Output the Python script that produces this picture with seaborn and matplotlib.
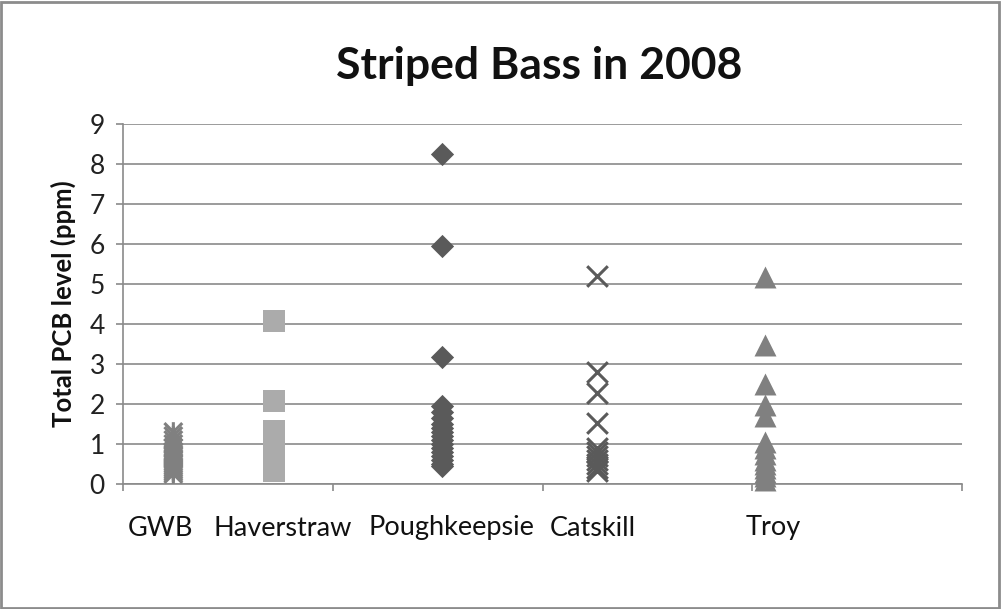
import matplotlib
matplotlib.use("Agg")
import matplotlib.pyplot as plt
from matplotlib.path import Path
from matplotlib.patches import Rectangle
import pandas as pd
import seaborn as sns

# Sampling sites along the Hudson, positioned by river mile
sites = ["GWB", "Haverstraw", "Poughkeepsie", "Catskill", "Troy"]
river_mile = [12, 36, 76, 113, 153]
label_mile = [9, 38, 78.4, 112, 155]

# Total PCB level (ppm) of individual striped bass samples
gwb = [0.25, 0.3, 0.35, 0.4, 0.45, 0.5, 0.55, 0.6, 0.65, 0.7, 0.75, 0.8,
       0.9, 1.0, 1.1, 1.2, 1.3]
haverstraw = [4.07, 2.07, 1.32, 1.2, 1.1, 1.0, 0.9, 0.8, 0.7, 0.6, 0.5,
              0.4, 0.33]
poughkeepsie = [8.24, 5.95, 3.18, 1.94, 1.8, 1.65, 1.5, 1.4, 1.3, 1.2, 1.1,
                1.0, 0.9, 0.8, 0.7, 0.6, 0.5, 0.45]
catskill = [5.2, 2.8, 2.27, 1.52, 0.9, 0.8, 0.7, 0.6, 0.5, 0.4, 0.33]
troy = [5.17, 3.47, 2.5, 1.97, 1.7, 1.05, 0.9, 0.75, 0.6, 0.5, 0.4, 0.3,
        0.2, 0.1]

yticks = list(range(0, 10))
xticks = [0, 50, 100, 150, 200]

values = [gwb, haverstraw, poughkeepsie, catskill, troy]
df = pd.concat(
    [pd.DataFrame({"site": s, "mile": m, "pcb": v})
     for s, m, v in zip(sites, river_mile, values)],
    ignore_index=True,
)

# asterisk marker: an X with a vertical stroke
star = Path(
    [(-0.5, -0.5), (0.5, 0.5), (-0.5, 0.5), (0.5, -0.5), (0, -0.55), (0, 0.55)],
    [Path.MOVETO, Path.LINETO, Path.MOVETO, Path.LINETO, Path.MOVETO, Path.LINETO],
)

styles = {
    "GWB": dict(marker=star, color="#808080", s=200, linewidth=2.2,
                facecolor="none"),
    "Haverstraw": dict(marker="s", color="#ababab", s=250, linewidth=0),
    "Poughkeepsie": dict(marker="D", color="#5a5a5a", s=140, linewidth=0),
    "Catskill": dict(marker="x", color="#5a5a5a", s=220, linewidth=2.2),
    "Troy": dict(marker="^", color="#808080", s=250, linewidth=0),
}

sns.set_style("white")
plt.rcParams["font.family"] = ["Lato", "DejaVu Sans"]

fig = plt.figure(figsize=(10.01, 6.09), dpi=100)
ax = fig.add_axes([123 / 1001, 1 - 484 / 609, 839 / 1001, 360 / 609])

grid_col = "#8a8a8a"
for s in sites:
    st = dict(styles[s])
    color = st.pop("color")
    sub = df[df["site"] == s]
    if s == "GWB":
        sns.scatterplot(data=sub, x="mile", y="pcb", ax=ax, edgecolor=color,
                        clip_on=False, zorder=3, legend=False, **st)
    elif s == "Catskill":
        sns.scatterplot(data=sub, x="mile", y="pcb", ax=ax, color=color,
                        clip_on=False, zorder=3, legend=False, **st)
    else:
        sns.scatterplot(data=sub, x="mile", y="pcb", ax=ax, color=color,
                        edgecolor=color, clip_on=False, zorder=3,
                        legend=False, **st)

ax.set_xlim(0, 200)
ax.set_ylim(0, 9)
ax.set_yticks(yticks)
ax.set_yticklabels([str(t) for t in yticks], fontsize=19, color="#222222")
ax.set_xticks(xticks)
ax.set_xticklabels([])
ax.set_xlabel("")
ax.set_ylabel("Total PCB level (ppm)", fontsize=18.5, fontweight="bold",
              labelpad=10, color="#111111")
ax.yaxis.grid(True, color=grid_col, linewidth=1.2, zorder=0)
ax.xaxis.grid(False)
ax.set_axisbelow(True)
for side in ["top", "right"]:
    ax.spines[side].set_visible(False)
for side in ["left", "bottom"]:
    ax.spines[side].set_color(grid_col)
    ax.spines[side].set_linewidth(1.2)
ax.tick_params(axis="both", direction="out", length=5, width=1.2,
               color=grid_col, pad=8, left=True, bottom=True)

for name, m in zip(sites, label_mile):
    ax.text(m, -1.1, name, ha="center", va="center", fontsize=19.5,
            color="#111111")

fig.text(539 / 1001, 1 - 66 / 609, "Striped Bass in 2008", ha="center",
         va="center", fontsize=32, fontweight="bold", color="#111111")

fig.patches.append(Rectangle((1 / 1001, 1 / 609), 998 / 1001, 606 / 609,
                             transform=fig.transFigure, fill=False,
                             edgecolor="#8c8c8c", linewidth=2))

fig.savefig("out.png", dpi=100)
